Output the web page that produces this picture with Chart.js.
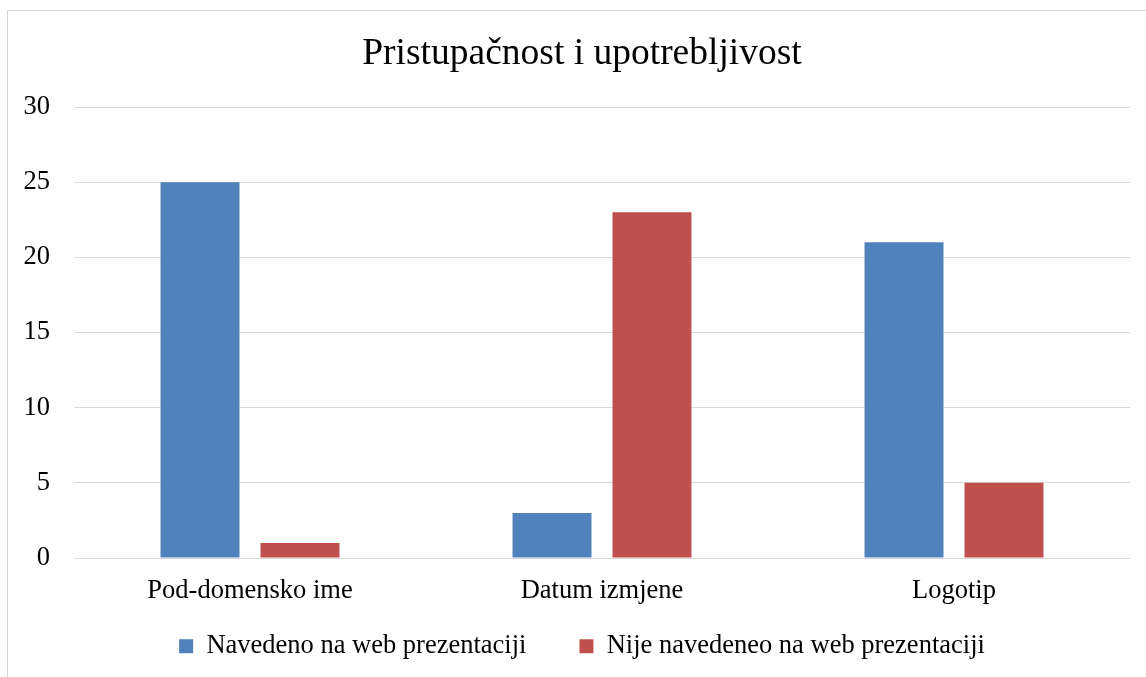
<!DOCTYPE html>
<html>
<head>
<meta charset="utf-8">
<script src="https://cdn.jsdelivr.net/npm/chart.js@4"></script>
<style>
  html, body { margin: 0; padding: 0; background: #fff; overflow: hidden; }
  canvas { display: block; }
</style>
</head>
<body>
<canvas id="chart" width="1146" height="677"></canvas>
<script>
// chart data
const categories = ['Pod-domensko ime', 'Datum izmjene', 'Logotip'];
const seriesNames = ['Navedeno na web prezentaciji', 'Nije navedeneo na web prezentaciji'];
const navedeno = [25, 3, 21];
const nijeNavedeno = [1, 23, 5];
const yTicks = [0, 5, 10, 15, 20, 25, 30];

const FONT = "'Liberation Serif', 'Times New Roman', serif";

// light gray frame around the whole chart (right/bottom edges fall outside)
const frame = {
  id: 'frame',
  beforeDraw(chart) {
    const ctx = chart.ctx;
    ctx.save();
    ctx.strokeStyle = '#d9d9d9';
    ctx.lineWidth = 1;
    ctx.strokeRect(7.5, 10.5, 1200, 700);
    ctx.restore();
  }
};

// legend entries sit far apart, but Chart.js uses the same padding vertically,
// so the legend box is kept short and pulled up after layout
const legendGap = {
  id: 'legendGap',
  beforeLayout(chart) {
    const lg = chart.legend;
    if (lg && !lg._shortFit) {
      const fit = lg.fit;
      lg.fit = function () {
        fit.call(this);
        this.height = 62;
      };
      lg._shortFit = true;
    }
  },
  afterLayout(chart) {
    if (chart.legend) chart.legend.top -= 26;
  }
};

new Chart(document.getElementById('chart'), {
  type: 'bar',
  data: {
    labels: categories,
    datasets: [
      { label: seriesNames[0], data: navedeno, backgroundColor: '#4F81BD' },
      { label: seriesNames[1], data: nijeNavedeno, backgroundColor: '#C0504D' }
    ]
  },
  options: {
    responsive: false,
    animation: false,
    devicePixelRatio: 1,
    categoryPercentage: 0.568,
    barPercentage: 0.79,
    layout: { padding: { left: 12, right: -6, top: 0, bottom: 9 } },
    plugins: {
      title: {
        display: true,
        text: 'Pristupačnost i upotrebljivost',
        color: '#000',
        font: { family: FONT, size: 37.5, weight: 'normal' },
        padding: { top: 32, bottom: 30 }
      },
      legend: {
        position: 'bottom',
        labels: {
          color: '#000',
          font: { family: FONT, size: 26.5 },
          boxWidth: 14,
          boxHeight: 14,
          padding: 53
        }
      },
      tooltip: { enabled: false }
    },
    scales: {
      x: {
        afterFit(scale) { scale.height = 48; },
        grid: { display: false },
        border: { display: false },
        ticks: {
          color: '#000',
          font: { family: FONT, size: 26.5 },
          padding: 9,
          maxRotation: 0
        }
      },
      y: {
        min: 0,
        max: 30,
        afterFit(scale) { scale.width = 62; },
        afterBuildTicks(scale) { scale.ticks = yTicks.map(v => ({ value: v })); },
        grid: { color: '#d9d9d9', lineWidth: 1, drawTicks: false },
        border: { display: false },
        ticks: {
          color: '#000',
          font: { family: FONT, size: 26.5 },
          padding: 24
        }
      },
      // empty spacer on the right so the plot ends where the original does
      y2: {
        position: 'right',
        afterFit(scale) { scale.width = 22; },
        grid: { display: false },
        border: { display: false },
        ticks: { display: false }
      }
    }
  },
  plugins: [frame, legendGap]
});
</script>
</body>
</html>
